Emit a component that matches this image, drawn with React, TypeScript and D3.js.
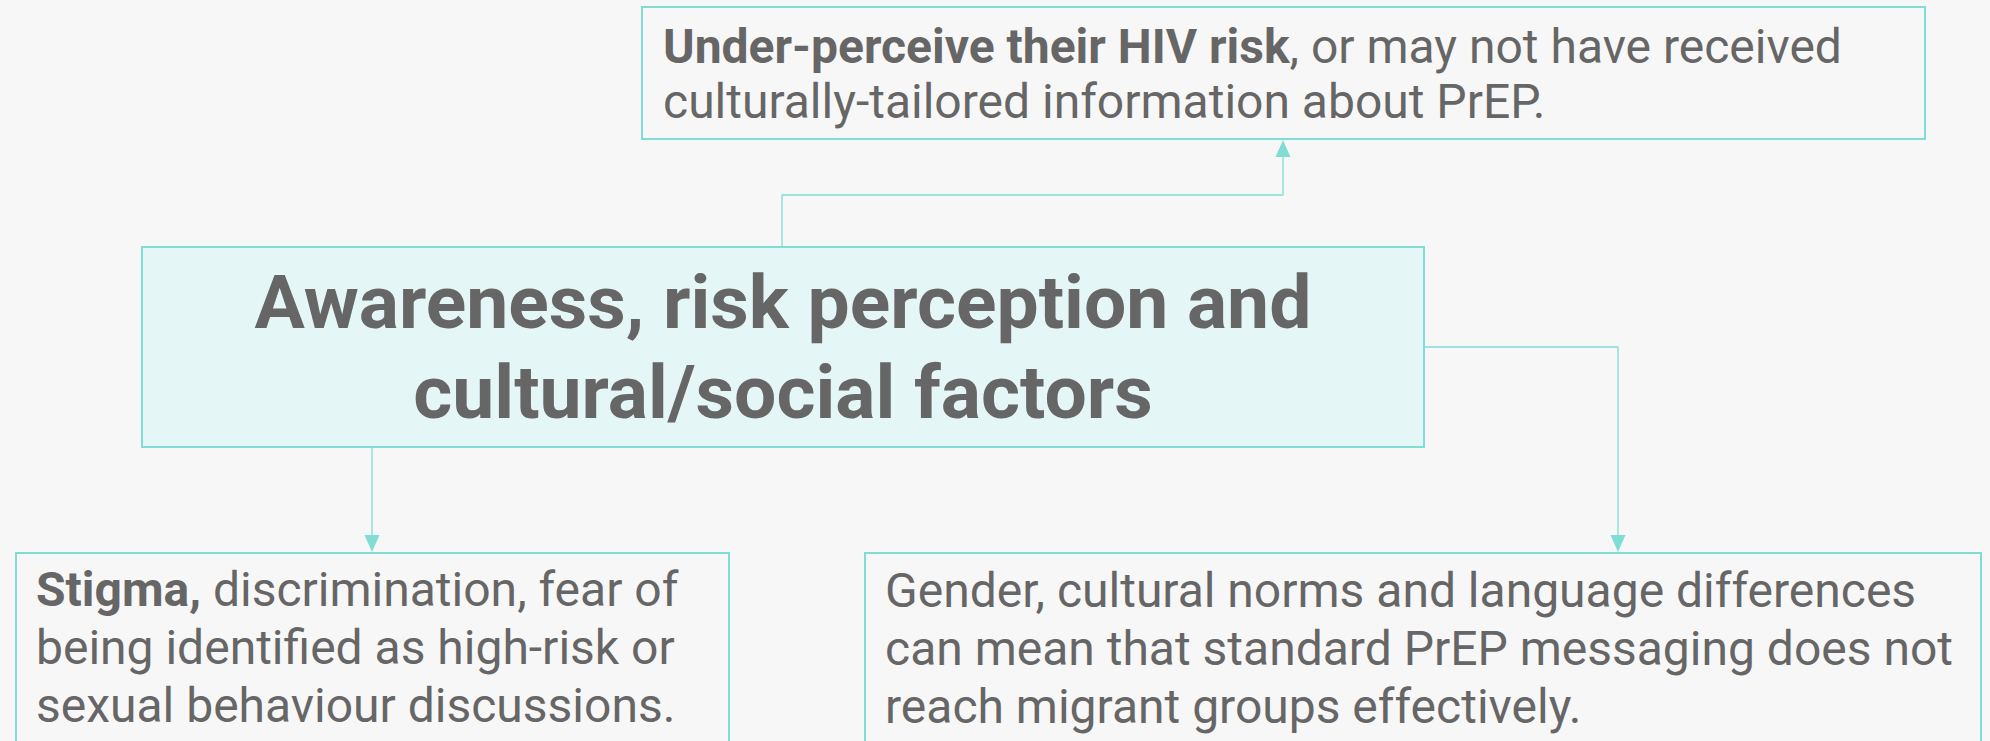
import * as d3 from 'd3'
import React from 'react'

// node texts, line by line; [text, bold]
const titleLines = ['Awareness, risk perception and', 'cultural/social factors']

const riskLines: [string, boolean][][] = [
  [['Under-perceive their HIV risk', true], [', or may not have received', false]],
  [['culturally-tailored information about PrEP.', false]],
]

const stigmaLines: [string, boolean][][] = [
  [['Stigma,', true], [' discrimination, fear of', false]],
  [['being identified as high-risk or', false]],
  [['sexual behaviour discussions.', false]],
]

const normsLines: [string, boolean][][] = [
  [['Gender, cultural norms and language differences', false]],
  [['can mean that standard PrEP messaging does not', false]],
  [['reach migrant groups effectively.', false]],
]

const W = 1990
const H = 741
const teal = '#80ddd5'
const ink = '#666666'
const font = 'Roboto, "Noto Sans", sans-serif'

const boxes = {
  main: { x0: 142, x1: 1424, y0: 247, y1: 447 },
  top: { x0: 642, x1: 1925, y0: 7, y1: 139 },
  left: { x0: 16, x1: 729, y0: 553, y1: 760 },
  right: { x0: 865, x1: 1981, y0: 553, y1: 760 },
}

function Box(props: { b: { x0: number; x1: number; y0: number; y1: number }; fill: string }) {
  const { b } = props
  return (
    <rect x={b.x0} y={b.y0} width={b.x1 - b.x0} height={b.y1 - b.y0} fill={props.fill} stroke={teal} strokeWidth={2} />
  )
}

function Para(props: { lines: [string, boolean][][]; x: number; y: number; step: number; size: number }) {
  const y = d3.scaleLinear().domain([0, 1]).range([props.y, props.y + props.step])
  return (
    <g fontFamily={font} fontSize={props.size} fill={ink}>
      {props.lines.map((line, i) => (
        <text key={i} x={props.x} y={y(i)}>
          {line.map(([t, b], j) => (
            <tspan key={j} fontWeight={b ? 700 : 400} style={{ whiteSpace: 'pre' }}>
              {t}
            </tspan>
          ))}
        </text>
      ))}
    </g>
  )
}

function arrowHead(x: number, y: number, dir: 1 | -1) {
  // tip at (x, y); dir 1 = pointing down
  const p = d3.path()
  p.moveTo(x, y)
  p.lineTo(x - 7.5, y - dir * 17)
  p.lineTo(x + 7.5, y - dir * 17)
  p.closePath()
  return p.toString()
}

export default function App() {
  const m = boxes.main
  const tx = 782
  const bend = 195
  const topX = 1283
  const leftX = 372
  const rightX = 1618
  const rightY = 347

  const up = d3.path()
  up.moveTo(tx, m.y0)
  up.lineTo(tx, bend)
  up.lineTo(topX, bend)
  up.lineTo(topX, boxes.top.y1 + 14)

  const down = d3.path()
  down.moveTo(leftX, m.y1)
  down.lineTo(leftX, boxes.left.y0 - 14)

  const side = d3.path()
  side.moveTo(m.x1, rightY)
  side.lineTo(rightX, rightY)
  side.lineTo(rightX, boxes.right.y0 - 14)

  const titleY = d3.scaleLinear().domain([0, 1]).range([328, 418])

  return (
    <svg width={W} height={H} style={{ position: 'absolute', left: 0, top: 0, background: '#f8f7f7' }}>
      <rect width={W} height={H} fill="#f8f7f7" />
      <g fill="none" stroke={teal} strokeWidth={1.3}>
        <path d={up.toString()} />
        <path d={down.toString()} />
        <path d={side.toString()} />
      </g>
      <g fill={teal}>
        <path d={arrowHead(topX, boxes.top.y1 + 1, -1)} />
        <path d={arrowHead(leftX, boxes.left.y0 - 1, 1)} />
        <path d={arrowHead(rightX, boxes.right.y0 - 1, 1)} />
      </g>

      <Box b={boxes.top} fill="#f8f7f7" />
      <Box b={boxes.main} fill="#e4f7f6" />
      <Box b={boxes.left} fill="#f8f7f7" />
      <Box b={boxes.right} fill="#f8f7f7" />

      <g fontFamily={font} fontSize={75} fontWeight={700} fill={ink} textAnchor="middle">
        {titleLines.map((t, i) => (
          <text key={i} x={(m.x0 + m.x1) / 2} y={titleY(i)}>
            {t}
          </text>
        ))}
      </g>

      <Para lines={riskLines} x={663} y={63} step={55} size={48} />
      <Para lines={stigmaLines} x={36} y={606} step={58} size={48} />
      <Para lines={normsLines} x={885} y={607} step={58} size={48} />
    </svg>
  )
}
